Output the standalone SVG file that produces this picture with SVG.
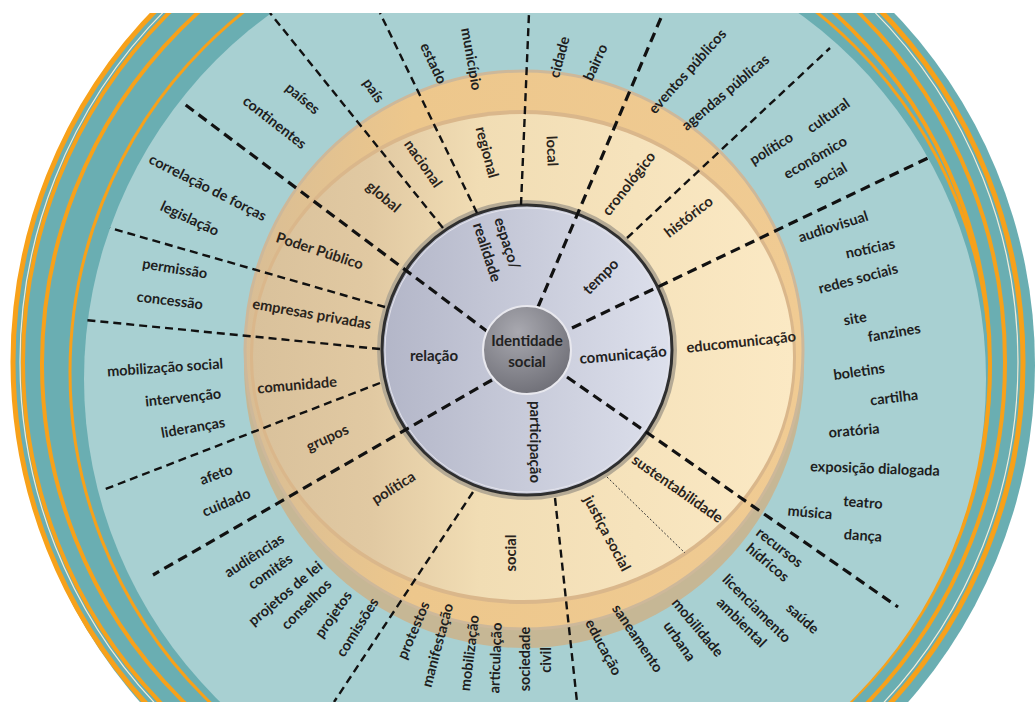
<svg xmlns="http://www.w3.org/2000/svg" width="1035" height="702" viewBox="0 0 1035 702">
<defs>
<linearGradient id="disc" x1="0" y1="0" x2="1" y2="0">
<stop offset="0" stop-color="#d9c19b"/><stop offset="0.22" stop-color="#e1c9a2"/><stop offset="0.42" stop-color="#f1ddb4"/><stop offset="1" stop-color="#fbe9c4"/>
</linearGradient>
<linearGradient id="ring" x1="0" y1="0" x2="1" y2="0">
<stop offset="0" stop-color="#d8bd95"/><stop offset="0.3" stop-color="#edc78c"/><stop offset="1" stop-color="#f0cb93"/>
</linearGradient>
<linearGradient id="gray" x1="0" y1="0" x2="1" y2="0">
<stop offset="0" stop-color="#b3b6c8"/><stop offset="1" stop-color="#dde0ec"/>
</linearGradient>
<radialGradient id="core" cx="0.4" cy="0.3" r="0.8">
<stop offset="0" stop-color="#a9a9b0"/><stop offset="1" stop-color="#6a6a72"/>
</radialGradient>
<style>
.t{font-family:Lato,"Liberation Sans",sans-serif;font-weight:700;fill:#1e1e1e;font-size:14.5px;text-anchor:middle;dominant-baseline:central}
.tt{font-size:14.7px;fill:#2a241c}
.tg{font-size:15px;fill:#222}
.main{stroke:#111;stroke-width:3.2;stroke-dasharray:10 6;fill:none}
.sub{stroke:#111;stroke-width:2.4;stroke-dasharray:8 5;fill:none}
.dot{stroke:#333;stroke-width:1;stroke-dasharray:2 2;fill:none}
.st{fill:none;stroke:#f7a11a}
</style>
</defs>
<rect width="1035" height="702" fill="#fff"/>
<g id="outer-ring">
<circle cx="524" cy="365" r="511" fill="#6aaeb2"/>
<circle class="st" cx="518" cy="362" r="505" stroke-width="5"/>
<circle cx="519" cy="362" r="499" fill="none" stroke="#f3ecd8" stroke-width="1.2"/>
<circle class="st" cx="514" cy="362" r="491" stroke-width="4"/>
<circle class="st" cx="516" cy="364" r="474" stroke-width="4"/>
<circle class="st" cx="530" cy="372" r="460" stroke-width="3"/>
<circle cx="535" cy="379" r="451" fill="#a8d0d2"/>
</g>
<g id="band">
<ellipse cx="524" cy="365" rx="280" ry="283" fill="#c6b795"/>
<circle cx="524" cy="350" r="279" fill="url(#ring)" stroke="#cdb89a" stroke-width="3"/>
<ellipse cx="523" cy="357" rx="273" ry="247" fill="#dab78b"/>
<ellipse cx="523" cy="357" rx="270" ry="243" fill="url(#disc)"/>
</g>
<g id="gray-disc">
<circle cx="527" cy="350" r="148" fill="none" stroke="#b5aa95" stroke-width="4"/>
<circle cx="527" cy="350" r="145" fill="url(#gray)" stroke="#2f2f2f" stroke-width="3"/>
<circle cx="527" cy="350" r="142" fill="none" stroke="#e4e4ec" stroke-width="1"/>
</g>
<g id="connectors">
<line class="main" x1="488" y1="332" x2="183" y2="103"/>
<line class="main" x1="538" y1="307" x2="663" y2="13"/>
<line class="main" x1="572" y1="328" x2="930" y2="157"/>
<line class="main" x1="567" y1="377" x2="898" y2="607"/>
<line class="main" x1="492" y1="380" x2="153" y2="575"/>
<line class="sub" x1="443" y1="228" x2="270" y2="13"/>
<line class="sub" x1="477" y1="213" x2="380" y2="13"/>
<line class="sub" x1="521" y1="205" x2="529" y2="13"/>
<line class="sub" x1="627" y1="238" x2="830" y2="48"/>
<line class="sub" x1="555" y1="498" x2="577" y2="702"/>
<line class="sub" x1="473" y1="492" x2="334" y2="702"/>
<line class="sub" x1="385" y1="307" x2="110" y2="228"/>
<line class="sub" x1="380" y1="349" x2="85" y2="320"/>
<line class="sub" x1="380" y1="383" x2="103" y2="490"/>
<line class="dot" x1="607" y1="477" x2="685" y2="553"/>
</g>
<g id="center">
<circle cx="527" cy="350" r="44" fill="url(#core)" stroke="#e8e8ee" stroke-width="2"/>
<text class="t tg" x="527" y="340" font-size="14">Identidade</text>
<text class="t tg" x="527" y="361" font-size="14">social</text>
</g>
<g id="espaco">
<text class="t tg" transform="translate(508,243) rotate(72)">espaço/</text>
<text class="t tg" transform="translate(488,252) rotate(72)">realidade</text>
<text class="t tt" transform="translate(384,196) rotate(40)">global</text>
<text class="t tt" transform="translate(424,163) rotate(55)">nacional</text>
<text class="t tt" transform="translate(488,152) rotate(75)">regional</text>
<text class="t tt" transform="translate(553,151) rotate(88)">local</text>
<text class="t" transform="translate(303,98) rotate(40)">países</text>
<text class="t" transform="translate(275,122) rotate(38)">continentes</text>
<text class="t" transform="translate(374,90) rotate(55)">país</text>
<text class="t" transform="translate(434,63) rotate(65)">estado</text>
<text class="t" transform="translate(472,59) rotate(80)">município</text>
<text class="t" transform="translate(559,57) rotate(-75)">cidade</text>
<text class="t" transform="translate(595,62) rotate(-65)">bairro</text>
</g>
<g id="tempo">
<text class="t tg" transform="translate(600,276) rotate(-45)">tempo</text>
<text class="t tt" transform="translate(628,183) rotate(-52)">cronológico</text>
<text class="t tt" transform="translate(688,216) rotate(-38)">histórico</text>
<text class="t" transform="translate(687,71) rotate(-48)">eventos públicos</text>
<text class="t" transform="translate(725,92) rotate(-40)">agendas públicas</text>
<text class="t" transform="translate(771,148) rotate(-32)">político</text>
<text class="t" transform="translate(828,115) rotate(-35)">cultural</text>
<text class="t" transform="translate(815,157) rotate(-30)">econômico</text>
<text class="t" transform="translate(830,175) rotate(-30)">social</text>
</g>
<g id="comunicacao">
<text class="t tg" transform="translate(623,354) rotate(-5)">comunicação</text>
<text class="t tt" transform="translate(741,341) rotate(-6)">educomunicação</text>
<text class="t" transform="translate(833,226) rotate(-18)">audiovisual</text>
<text class="t" transform="translate(870,248) rotate(-12)">notícias</text>
<text class="t" transform="translate(858,278) rotate(-15)">redes sociais</text>
<text class="t" transform="translate(855,318) rotate(-10)">site</text>
<text class="t" transform="translate(894,332) rotate(-10)">fanzines</text>
<text class="t" transform="translate(859,371) rotate(-8)">boletins</text>
<text class="t" transform="translate(894,397) rotate(-7)">cartilha</text>
<text class="t" transform="translate(854,430) rotate(-5)">oratória</text>
<text class="t" transform="translate(875,468) rotate(2)">exposição dialogada</text>
<text class="t" transform="translate(810,512) rotate(5)">música</text>
<text class="t" transform="translate(863,502) rotate(4)">teatro</text>
<text class="t" transform="translate(863,535) rotate(4)">dança</text>
</g>
<g id="participacao">
<text class="t tg" transform="translate(536,442) rotate(90)">participação</text>
<text class="t tt" transform="translate(678,488) rotate(35)">sustentabilidade</text>
<text class="t tt" transform="translate(608,533) rotate(62)">justiça social</text>
<text class="t tt" transform="translate(510,553) rotate(-90)">social</text>
<text class="t tt" transform="translate(393,487) rotate(-32)">política</text>
<text class="t" transform="translate(780,547) rotate(38)">recursos</text>
<text class="t" transform="translate(768,562) rotate(40)">hídricos</text>
<text class="t" transform="translate(803,618) rotate(42)">saúde</text>
<text class="t" transform="translate(757,608) rotate(45)">licenciamento</text>
<text class="t" transform="translate(742,622) rotate(45)">ambiental</text>
<text class="t" transform="translate(698,627) rotate(50)">mobilidade</text>
<text class="t" transform="translate(680,641) rotate(55)">urbana</text>
<text class="t" transform="translate(638,638) rotate(56)">saneamento</text>
<text class="t" transform="translate(604,647) rotate(62)">educação</text>
<text class="t" transform="translate(545,660) rotate(-90)">civil</text>
<text class="t" transform="translate(524,659) rotate(-90)">sociedade</text>
<text class="t" transform="translate(495,658) rotate(-88)">articulação</text>
<text class="t" transform="translate(469,653) rotate(-83)">mobilização</text>
<text class="t" transform="translate(437,645) rotate(-75)">manifestação</text>
<text class="t" transform="translate(413,630) rotate(-67)">protestos</text>
<text class="t" transform="translate(357,627) rotate(-58)">comissões</text>
<text class="t" transform="translate(333,614) rotate(-55)">projetos</text>
<text class="t" transform="translate(306,604) rotate(-45)">conselhos</text>
<text class="t" transform="translate(285,593) rotate(-40)">projetos de lei</text>
<text class="t" transform="translate(270,571) rotate(-35)">comitês</text>
<text class="t" transform="translate(254,555) rotate(-33)">audiências</text>
</g>
<g id="relacao">
<text class="t tg" x="434" y="355">relação</text>
<text class="t tt" transform="translate(320,250) rotate(18)">Poder Público</text>
<text class="t tt" transform="translate(312,313) rotate(10)">empresas privadas</text>
<text class="t tt" transform="translate(297,384) rotate(-5)">comunidade</text>
<text class="t tt" transform="translate(327,437) rotate(-25)">grupos</text>
<text class="t" transform="translate(208,187) rotate(27)">correlação de forças</text>
<text class="t" transform="translate(190,218) rotate(25)">legislação</text>
<text class="t" transform="translate(175,268) rotate(9)">permissão</text>
<text class="t" transform="translate(170,300) rotate(7)">concessão</text>
<text class="t" transform="translate(165,367) rotate(-4)">mobilização social</text>
<text class="t" transform="translate(183,397) rotate(-6)">intervenção</text>
<text class="t" transform="translate(193,427) rotate(-10)">lideranças</text>
<text class="t" transform="translate(216,474) rotate(-20)">afeto</text>
<text class="t" transform="translate(226,502) rotate(-23)">cuidado</text>
</g>
<rect x="0" y="0" width="1035" height="13" fill="#fff"/>
</svg>
